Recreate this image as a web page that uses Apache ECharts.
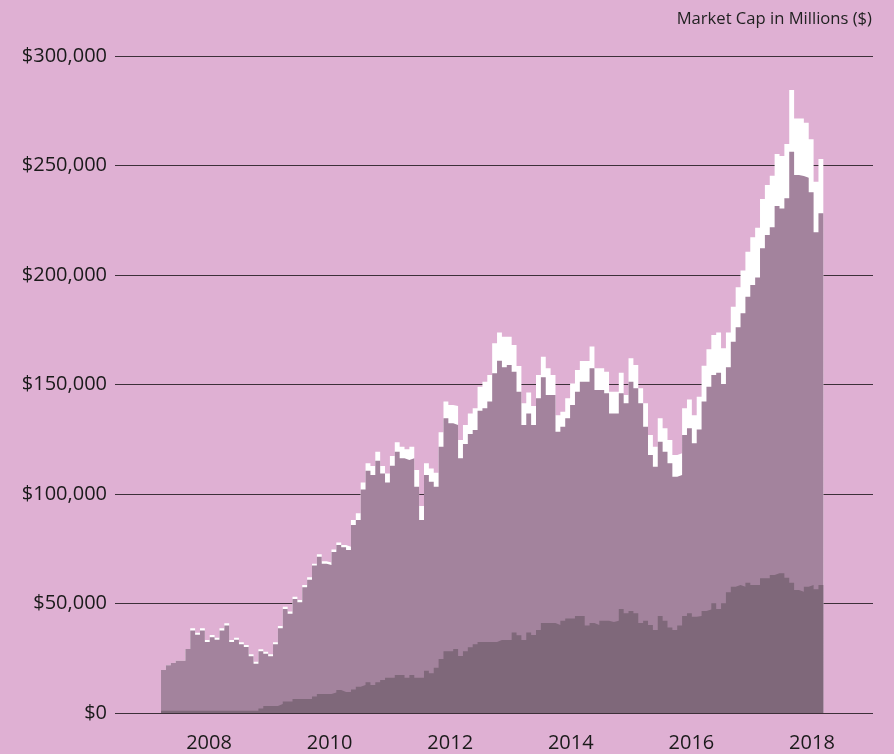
<!DOCTYPE html>
<html><head><meta charset="utf-8">
<script src="https://cdn.jsdelivr.net/npm/echarts@6/dist/echarts.min.js"></script>
<style>html,body{margin:0;padding:0;background:#dfb0d3;}#c{width:894px;height:754px;}</style>
</head><body><div id="c"></div>
<script>
// Market cap in millions of dollars, one value per period (about monthly), early 2007 to early 2018
const totalCap = [19.6,21.8,22.8,23.9,23.9,29.2,38.7,36.7,38.7,33.3,35.6,34.4,38.7,41.0,33.3,34.4,32.3,31.0,26.8,23.4,
  29.1,28.0,26.8,32.3,39.7,48.5,46.3,53.1,51.6,58.4,62.0,68.2,72.5,69.3,68.7,74.7,77.9,76.7,75.9,88.1,
  91.2,105.3,114.0,112.8,119.3,112.8,109.4,117.4,123.6,121.6,120.4,121.6,111.0,94.5,114.0,111.7,109.7,128.2,142.2,140.6,
  140.2,124.7,131.5,136.8,139.1,149.0,151.3,154.3,168.8,173.7,171.8,171.8,168.0,158.4,141.4,146.3,140.2,154.3,162.7,157.4,
  154.3,136.0,137.6,143.7,150.5,156.6,160.7,160.7,167.3,157.4,157.4,155.8,146.7,146.7,155.4,145.2,162.0,158.9,148.3,141.4,
  126.9,121.6,134.6,130.0,124.7,117.8,118.6,139.1,143.2,136.0,144.4,158.6,166.1,172.6,173.7,166.5,173.7,185.5,194.4,202.0,
  210.6,217.2,221.6,234.7,241.1,245.3,255.3,254.3,259.8,284.5,271.5,271.5,269.5,262.0,242.6,253.0];
const midCap = [19.6,21.8,22.8,23.9,23.9,29.2,37.7,35.7,37.7,32.4,34.6,33.5,37.7,40.0,32.4,33.5,31.4,30.1,25.9,22.5,
  28.2,27.1,25.9,31.4,38.7,47.5,45.3,52.1,50.6,57.4,60.9,67.3,71.4,68.2,67.6,73.5,76.7,75.7,74.4,85.8,
  88.1,102.1,110.6,108.7,115.2,109.4,105.3,112.9,119.3,116.3,115.5,116.3,103.3,88.1,108.7,105.6,103.3,121.6,134.6,132.3,
  131.5,116.3,122.8,127.4,129.2,138.0,139.1,142.2,155.1,160.9,157.9,158.9,155.8,146.7,131.5,136.8,131.5,143.7,153.3,145.2,
  145.2,128.4,130.7,134.6,140.6,146.7,151.3,151.3,157.4,147.5,147.5,146.0,136.8,136.8,146.0,141.4,151.3,148.3,141.4,130.7,
  117.8,112.5,123.9,119.3,114.0,107.9,108.7,126.9,130.0,123.2,129.5,142.2,149.0,154.3,155.4,150.2,157.9,169.5,176.1,182.5,
  190.1,195.4,198.9,212.2,218.3,221.8,231.5,230.4,235.0,256.3,245.7,245.2,244.4,237.8,219.5,228.2];
const baseCap = [1.0,1.0,1.0,1.0,1.0,1.0,1.0,1.0,1.0,1.0,1.0,1.0,1.0,1.0,1.0,1.0,1.0,1.0,1.0,1.0,
  2.1,3.2,3.2,3.2,4.1,5.2,5.2,6.4,6.4,6.4,6.4,7.5,8.7,8.7,8.7,9.4,10.5,9.6,9.6,10.7,
  12.0,12.8,14.0,12.8,14.0,15.1,16.1,16.1,17.4,17.4,16.1,17.4,16.1,16.1,19.3,18.1,20.7,24.7,28.2,28.2,
  29.2,26.0,28.2,30.0,31.4,32.4,32.4,32.4,32.4,33.3,33.3,33.3,36.8,35.5,33.3,36.8,35.6,37.9,41.1,41.1,
  41.1,40.2,42.1,43.2,43.2,44.3,44.3,40.0,41.1,40.2,42.1,42.1,41.5,42.1,47.5,45.5,46.6,45.5,41.1,42.1,
  40.2,37.9,44.3,42.1,39.0,37.9,40.0,44.3,45.5,44.0,44.3,46.6,47.3,50.1,47.5,50.1,55.1,57.7,58.4,57.7,
  59.5,58.4,58.4,61.5,61.5,63.0,63.8,63.8,61.8,59.5,56.2,55.4,57.7,58.4,56.5,58.4];
const yearLabels = [2008, 2010, 2012, 2014, 2016, 2018];
const yTickStep = 50000;
const yMax = 300000;

function steps(arr) {
  const pts = arr.map((v, i) => [i, v * 1000]);
  pts.push([arr.length, arr[arr.length - 1] * 1000]);
  return pts;
}
function area(name, arr, color) {
  return {
    name, type: 'line', xAxisIndex: 0, step: 'end', data: steps(arr),
    symbol: 'none', lineStyle: { width: 0 }, areaStyle: { color, opacity: 1 },
    itemStyle: { color }, silent: true
  };
}
const chart = echarts.init(document.getElementById('c'));
chart.setOption({
  animation: false,
  backgroundColor: '#dfb0d3',
  textStyle: { fontFamily: 'Open Sans' },
  title: {
    text: 'Market Cap in Millions ($)', right: 17, top: 6,
    textStyle: { fontSize: 16.6, fontWeight: 'normal', color: '#222', fontFamily: 'Open Sans' }
  },
  grid: { left: 115, right: 21, top: 56, bottom: 41, containLabel: false },
  xAxis: [
    { type: 'value', min: -9.45, max: 146.2, show: false },
    { type: 'value', min: 2006.441, max: 2019.012, position: 'bottom',
      axisLine: { show: false }, axisTick: { show: false }, splitLine: { show: false },
      axisLabel: { customValues: yearLabels, fontSize: 20, color: '#1a1a1a', margin: 20,
        fontFamily: 'Open Sans', formatter: v => String(Math.round(v)) } }
  ],
  yAxis: {
    type: 'value', min: 0, max: yMax, interval: yTickStep,
    axisLine: { show: false }, axisTick: { show: false },
    splitLine: { show: true, lineStyle: { color: '#3d3039', width: 1 } },
    axisLabel: { fontSize: 20, color: '#1a1a1a', margin: 8, fontFamily: 'Open Sans',
      formatter: v => '$' + v.toLocaleString('en-US') }
  },
  series: [
    area('Total', totalCap, '#ffffff'),
    area('Middle', midCap, '#a3839d'),
    area('Base', baseCap, '#7f687a')
  ]
});
</script></body></html>
